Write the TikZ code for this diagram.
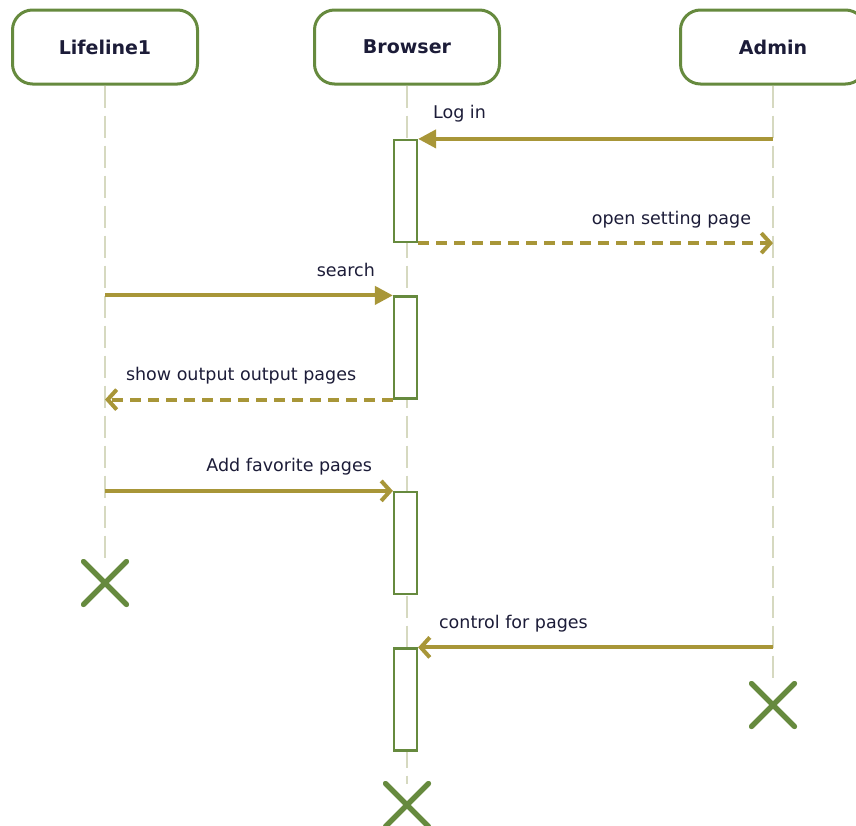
\documentclass[tikz,border=0pt]{standalone}
\usepackage{fontspec}
\setmainfont{DejaVu Sans}
\usetikzlibrary{arrows.meta,shapes.misc}
\definecolor{olive}{RGB}{168,150,56}
\definecolor{grn}{RGB}{102,138,62}
\definecolor{lifec}{RGB}{214,217,192}
\definecolor{txt}{RGB}{28,28,56}
\tikzset{
  head/.style={draw=grn, line width=3pt, rounded corners=20pt, fill=white,
    minimum width=185pt, minimum height=74pt, font=\bfseries\fontsize{19}{22}\selectfont, text=txt},
  act/.style={draw=grn, line width=2.2pt, fill=white, minimum width=23pt, inner sep=0pt},
  life/.style={draw=lifec, line width=2.5pt, dash pattern=on 22pt off 8pt},
  msg/.style={draw=olive, line width=4pt},
  ret/.style={draw=olive, line width=4pt, dash pattern=on 11pt off 7pt},
  filled/.style={-{Triangle[length=18pt,width=18pt]}},
  open/.style={-{Straight Barb[length=9pt,width=20pt,line width=4pt]}},
  lbl/.style={font=\fontsize{17.5}{20}\selectfont, text=txt, inner sep=0pt},
  killx/.style={cross out, draw=grn, line width=5pt, line cap=round, minimum size=38pt, inner sep=0pt}
}
\begin{document}
\begin{tikzpicture}[x=1pt,y=-1pt]
\useasboundingbox (0,0) rectangle (856,825);
\clip (0,0) rectangle (856,825);
% heads
\node[head] (L) at (105,47) {Lifeline1};
\node[head] (B) at (407,47) {Browser};
\node[head] (A) at (773,47) {Admin};
% kill marks
\node[killx] (xL) at (105,583) {};
\node[killx] (xA) at (773,705) {};
\node[killx] (xB) at (407,805) {};
% lifelines
\draw[life] (L.south) -- (xL.north);
\draw[life] (B.south) -- (xB.north);
\draw[life] (A.south) -- (xA.north);
% activations
\node[act, minimum height=102pt] (b1) at (405.5,191) {};
\node[act, minimum height=102pt] (b2) at (405.5,347.5) {};
\node[act, minimum height=102pt] (b3) at (405.5,543) {};
\node[act, minimum height=102pt] (b4) at (405.5,699.5) {};
% redraw kill marks above lifelines
\node[killx] at (xL) {};
\node[killx] at (xA) {};
\node[killx] at (xB) {};
% messages
\coordinate (a1) at (A.south |- b1.north);
\coordinate (a2) at (A.south |- b1.south);
\coordinate (l2) at (L.south |- b2.north);
\coordinate (l3) at (L.south |- b2.south);
\coordinate (l4) at (L.south |- b3.north);
\coordinate (a4) at (A.south |- b4.north);
\draw[msg, filled] (a1) -- (b1.north east)
  node[lbl, anchor=base west, pos=1, xshift=13pt, yshift=20pt] {Log in};
\draw[ret, open] (b1.south east) -- (a2)
  node[lbl, anchor=base east, pos=1, xshift=-20pt, yshift=19pt] {open setting page};
\draw[msg, filled] (l2) -- (b2.north west)
  node[lbl, anchor=base east, pos=1, xshift=-16pt, yshift=19pt] {search};
\draw[ret, open] (b2.south west) -- (l3)
  node[lbl, anchor=base west, pos=1, xshift=19pt, yshift=19pt] {show output output pages};
\draw[msg, open] (l4) -- (b3.north west)
  node[lbl, anchor=base east, pos=1, xshift=-19pt, yshift=19pt] {Add favorite pages};
\draw[msg, open] (a4) -- (b4.north east)
  node[lbl, anchor=base west, pos=1, xshift=19pt, yshift=19pt] {control for pages};
\end{tikzpicture}
\end{document}
